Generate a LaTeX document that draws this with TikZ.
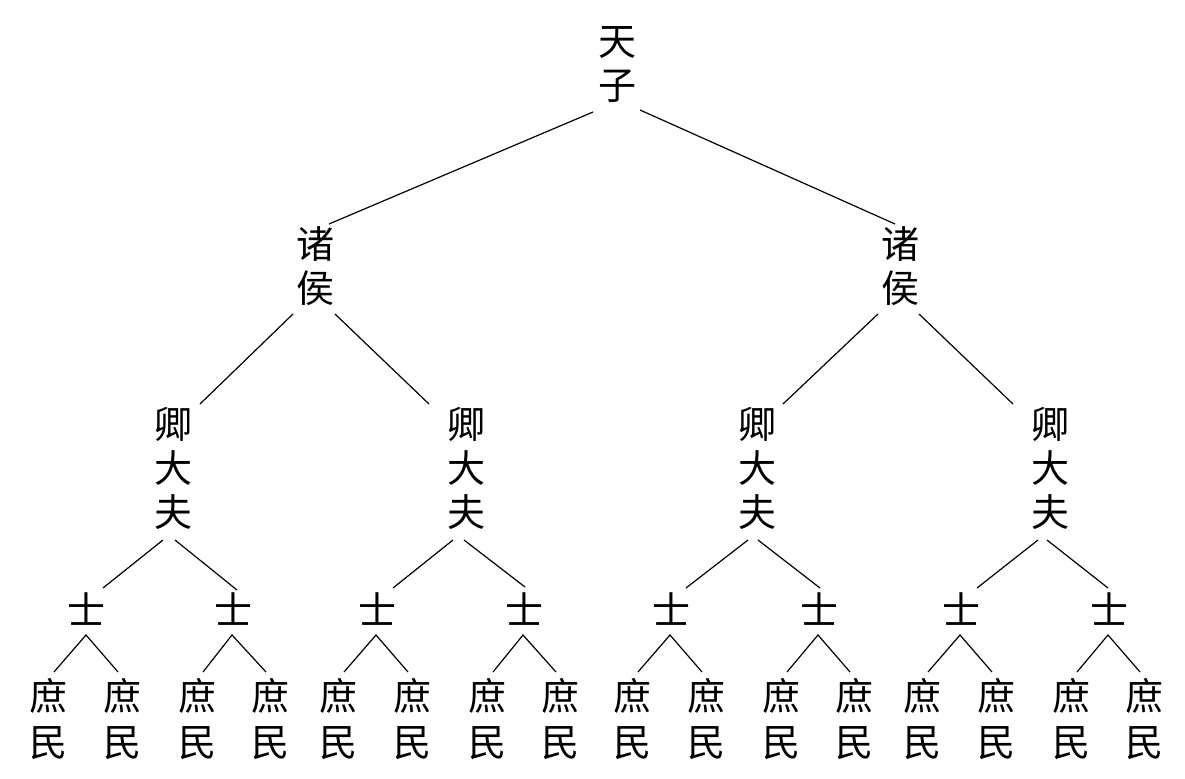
\documentclass[tikz,border=0pt]{standalone}
\usepackage{fontspec}
\newfontfamily\cjk{Noto Sans CJK SC}
\usetikzlibrary{calc}
\tikzset{
  lbl/.style={inner sep=0pt, align=center, font=\cjk\fontsize{19pt}{22pt}\selectfont},
  leaf/.style={inner sep=0pt, align=center, font=\cjk\fontsize{19pt}{23pt}\selectfont},
  edge/.style={line width=0.6pt, black}
}
\begin{document}
\begin{tikzpicture}[x=0.5pt,y=-0.5pt]
\useasboundingbox (0,0) rectangle (1185,778);
% level 0
\node[lbl] (tz) at (617,65) {天\\子};
% level 1
\node[lbl] (zh1) at (315,266) {诸\\侯};
\node[lbl] (zh2) at (900,266) {诸\\侯};
% level 2
\node[lbl] (qd1) at (173,468) {卿\\大\\夫};
\node[lbl] (qd2) at (466,468) {卿\\大\\夫};
\node[lbl] (qd3) at (757,468) {卿\\大\\夫};
\node[lbl] (qd4) at (1050,468) {卿\\大\\夫};
% level 3
\foreach \i/\x in {1/87,2/233,3/377,4/524,5/671,6/819,7/961,8/1109}
  \node[lbl] (s\i) at (\x,609) {士};
% level 4
\foreach \i/\x in {1/48,2/122,3/197,4/270,5/338,6/412,7/487,8/560,9/632,10/706,11/781,12/854,13/922,14/996,15/1071,16/1144}
  \node[leaf] (m\i) at (\x,719) {庶\\民};
% edges level 0 -> 1
\draw[edge] ($(tz)+(-24,47)$) -- ($(zh1)+(14,-42)$);
\draw[edge] ($(tz)+(23,45)$) -- ($(zh2)+(-5,-42)$);
% edges level 1 -> 2
\draw[edge] ($(zh1)+(-22,48)$) -- ($(qd1)+(27,-64)$);
\draw[edge] ($(zh1)+(20,48)$) -- ($(qd2)+(-37,-64)$);
\draw[edge] ($(zh2)+(-22,48)$) -- ($(qd3)+(26,-64)$);
\draw[edge] ($(zh2)+(19,48)$) -- ($(qd4)+(-37,-64)$);
% edges level 2 -> 3
\draw[edge] ($(qd1)+(-10,72)$) -- ($(s1)+(16,-21)$);
\draw[edge] ($(qd1)+(2,72)$) -- ($(s2)+(4,-19)$);
\draw[edge] ($(qd2)+(-13,72)$) -- ($(s3)+(16,-21)$);
\draw[edge] ($(qd2)+(-2,72)$) -- ($(s4)+(1,-22)$);
\draw[edge] ($(qd3)+(-9,72)$) -- ($(s5)+(15,-21)$);
\draw[edge] ($(qd3)+(1,72)$) -- ($(s6)+(1,-21)$);
\draw[edge] ($(qd4)+(-12,72)$) -- ($(s7)+(16,-21)$);
\draw[edge] ($(qd4)+(-3,72)$) -- ($(s8)+(-1,-21)$);
% edges level 3 -> 4
\foreach \s/\a/\b in {1/1/2,2/3/4,3/5/6,4/7/8,5/9/10,6/11/12,7/13/14,8/15/16}{
  \draw[edge] ($(m\a)+(6,-47)$) -- ($(s\s)+(-1,26)$) -- ($(m\b)+(-4,-47)$);
}
\end{tikzpicture}
\end{document}
